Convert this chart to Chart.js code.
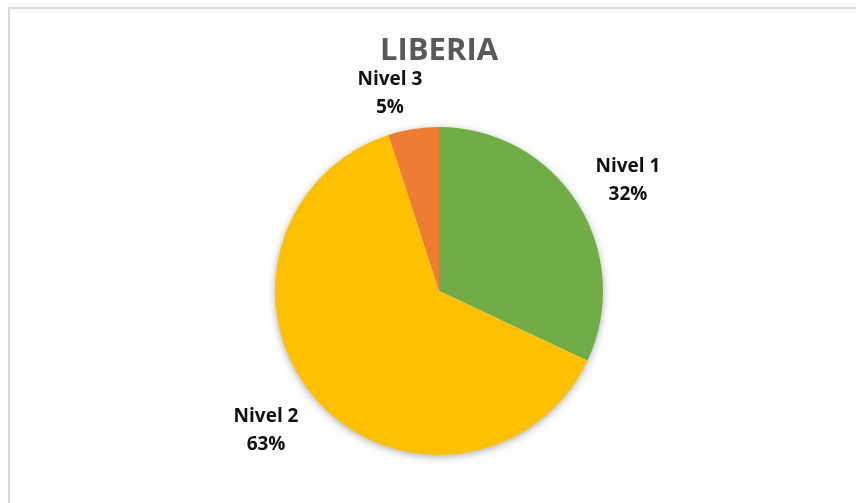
<!DOCTYPE html>
<html lang="es">
<head>
<meta charset="UTF-8">
<title>LIBERIA</title>
<script src="https://cdn.jsdelivr.net/npm/chart.js"></script>
<style>
    html, body { margin: 0; padding: 0; background: #fff; overflow: hidden; }
    #wrap { position: relative; width: 856px; height: 503px; }
</style>
</head>
<body>
<div id="wrap"><canvas id="chart_liberia"></canvas></div>
<script>
    var niveles = ['Nivel 1', 'Nivel 2', 'Nivel 3'];
    var porcentajes = [32, 63, 5];
    var colores = ['#70AD47', '#FFC000', '#ED7D31'];
    var titulo = 'LIBERIA';

    // frame, title, shadow under the pie and the outside labels
    var decor = {
        id: 'decor',
        beforeDraw: function (chart) {
            var ctx = chart.ctx;
            ctx.save();
            ctx.fillStyle = '#d9d9d9';
            ctx.fillRect(8, 7, 848, 2);
            ctx.fillRect(8, 7, 2, 496);
            ctx.fillStyle = '#595959';
            ctx.font = 'bold 31px "Open Sans"';
            ctx.textAlign = 'center';
            ctx.textBaseline = 'alphabetic';
            ctx.fillText(titulo, 439, 60);
            ctx.restore();
        },
        beforeDatasetsDraw: function (chart) {
            var arc = chart.getDatasetMeta(0).data[0];
            var ctx = chart.ctx;
            ctx.save();
            ctx.shadowColor = 'rgba(0,0,0,0.35)';
            ctx.shadowBlur = 9;
            ctx.shadowOffsetY = 2;
            ctx.fillStyle = '#fff';
            ctx.beginPath();
            ctx.arc(arc.x, arc.y, arc.outerRadius - 0.5, 0, Math.PI * 2);
            ctx.fill();
            ctx.restore();
        },
        afterDatasetsDraw: function (chart) {
            var ctx = chart.ctx;
            // label distance (in radii) and angle nudge (degrees) per slice
            var dist = [1.336, 1.357, 1.238];
            var nudge = [2, 2.4, -5];
            ctx.save();
            ctx.fillStyle = '#111';
            ctx.font = 'bold 19px "Open Sans"';
            ctx.textAlign = 'center';
            ctx.textBaseline = 'middle';
            chart.getDatasetMeta(0).data.forEach(function (a, i) {
                var mid = (a.startAngle + a.endAngle) / 2 + nudge[i] * Math.PI / 180;
                var r = a.outerRadius * dist[i];
                var x = a.x + Math.cos(mid) * r;
                var y = a.y + Math.sin(mid) * r;
                ctx.fillText(niveles[i], x, y - 14);
                ctx.fillText(porcentajes[i] + '%', x, y + 14);
            });
            ctx.restore();
        }
    };

    new Chart(document.getElementById('chart_liberia'), {
        type: 'pie',
        data: {
            labels: niveles,
            datasets: [{
                data: porcentajes,
                backgroundColor: colores,
                borderWidth: 0
            }]
        },
        options: {
            responsive: true,
            maintainAspectRatio: false,
            animation: false,
            layout: { padding: { top: 127, bottom: 48, left: 275, right: 253 } },
            plugins: {
                legend: { display: false },
                tooltip: { enabled: false },
                title: { display: false }
            }
        },
        plugins: [decor]
    });
</script>
</body>
</html>
